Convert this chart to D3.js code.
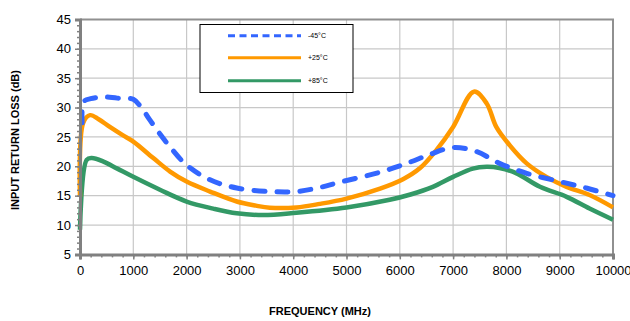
<!DOCTYPE html>
<html><head><meta charset="utf-8">
<script src="https://cdn.jsdelivr.net/npm/d3@7"></script>
<style>body{margin:0;background:#fff;}svg{display:block;font-family:"Liberation Sans",Arial,sans-serif;}</style>
</head><body><svg id="c" width="630" height="321"></svg>
<script>
const xTicks = [0,1000,2000,3000,4000,5000,6000,7000,8000,9000,10000];
const yTicks = [5,10,15,20,25,30,35,40,45];
const seriesNames = ["-45°C","+25°C","+85°C"];
const seriesColors = ["#3366FF","#FF9900","#339966"];
const freqM45 = [40,70,200,430,700,1000,1150,1310,1500,1690,2000,2440,2940,3560,4060,4500,4880,5630,6190,6560,7000,7440,7870,8380,9000,9500,10000];
const valM45  = [27.4,31.0,31.5,31.8,31.6,31.4,30.0,27.9,25.5,23.3,20.2,17.7,16.3,15.7,15.7,16.4,17.3,19.0,20.7,22.0,23.2,22.5,20.5,18.8,17.4,16.3,15.0];
const freqP25 = [0,60,190,350,560,800,1000,1375,1690,2000,2440,2940,3300,3560,4060,4500,5000,5630,6060,6380,6690,7000,7390,7630,7810,8060,8380,8750,9130,9560,10000];
const valP25  = [14.8,27.4,28.7,28.0,26.7,25.3,24.2,21.4,19.1,17.4,15.7,14.0,13.3,12.95,13.0,13.6,14.5,16.2,17.8,19.7,22.8,26.7,32.7,30.7,26.7,23.6,20.5,18.2,16.5,15.1,13.0];
const freqP85 = [0,125,220,440,700,1000,1500,2000,2500,2940,3440,4060,5000,5810,6200,6620,7000,7370,7630,7870,8190,8630,9130,9560,10000];
const valP85  = [9.2,21.1,21.4,20.8,19.6,18.2,16.0,14.0,12.8,12.0,11.7,12.1,13.0,14.3,15.2,16.5,18.2,19.6,19.9,19.7,18.8,16.5,14.8,12.8,10.9];

const svg = d3.select("#c");
const L=80, R=613, T=19.4, B=254.4;
const x = d3.scaleLinear().domain([0,10000]).range([L,R]);
const y = d3.scaleLinear().domain([5,45]).range([B,T]);

// grid
svg.append("g").selectAll("line").data(yTicks.slice(1,-1)).join("line")
  .attr("x1",L).attr("x2",R).attr("y1",d=>y(d)).attr("y2",d=>y(d))
  .attr("stroke","#c8c8c8").attr("stroke-width",1.2);
svg.append("g").selectAll("line").data(xTicks.slice(1,-1)).join("line")
  .attr("y1",T).attr("y2",B).attr("x1",d=>x(d)).attr("x2",d=>x(d))
  .attr("stroke","#c8c8c8").attr("stroke-width",1.2);

// border top/right
svg.append("path").attr("d",`M${L},${T}H${R}V${B}`).attr("fill","none").attr("stroke","#909090").attr("stroke-width",2);

// series
const series = [[freqM45,valM45],[freqP25,valP25],[freqP85,valP85]];
const line = d3.line().x(d=>x(d[0])).y(d=>y(d[1])).curve(d3.curveCatmullRom.alpha(0.5));
const order=[2,1,0];
order.forEach(i=>{
  const pts = series[i][0].map((f,k)=>[f,series[i][1][k]]);
  svg.append("path").datum(pts).attr("d",line).attr("fill","none")
    .attr("stroke",seriesColors[i]).attr("stroke-width",i===0?5:4.5)
    .attr("stroke-linejoin","round")
    .attr("stroke-linecap",i===0?"round":"butt")
    .attr("stroke-dasharray",i===0?"11,12":null);
});

// axes
const xAxis = d3.axisBottom(x).tickValues(xTicks).tickSize(5).tickFormat(d3.format("d"));
const gx = svg.append("g").attr("transform",`translate(0,${B})`).call(xAxis);
gx.select(".domain").attr("stroke","#808080").attr("stroke-width",3);
gx.selectAll(".tick line").attr("stroke","#808080").attr("stroke-width",1.5);
gx.selectAll("text").attr("font-size",13).attr("fill","#000").attr("dy","0.95em");
const xMinor = d3.axisBottom(x).tickValues(d3.range(0,10001,200)).tickSize(3).tickFormat("");
const gxm = svg.append("g").attr("transform",`translate(0,${B})`).call(xMinor);
gxm.select(".domain").remove();
gxm.selectAll("line").attr("stroke","#808080").attr("stroke-width",1.5);

const yAxis = d3.axisLeft(y).tickValues(yTicks).tickSize(5);
const gy = svg.append("g").attr("transform",`translate(${L},0)`).call(yAxis);
gy.select(".domain").attr("stroke","#808080").attr("stroke-width",3);
gy.selectAll(".tick line").attr("stroke","#808080").attr("stroke-width",1.5);
gy.selectAll("text").attr("font-size",13).attr("fill","#000").attr("x",-9);
const yMinor = d3.axisLeft(y).tickValues(d3.range(5,46,1)).tickSize(3).tickFormat("");
const gym = svg.append("g").attr("transform",`translate(${L},0)`).call(yMinor);
gym.select(".domain").remove();
gym.selectAll("line").attr("stroke","#808080").attr("stroke-width",1.5);

// titles
svg.append("text").attr("x",320).attr("y",315).attr("text-anchor","middle")
  .attr("font-size",11).attr("font-weight","bold").text("FREQUENCY (MHz)");
svg.append("text").attr("transform","translate(19,140) rotate(-90)").attr("text-anchor","middle")
  .attr("font-size",11).attr("font-weight","bold").text("INPUT RETURN LOSS (dB)");

// legend
const lg = svg.append("g");
lg.append("rect").attr("x",200).attr("y",24.5).attr("width",153).attr("height",68)
  .attr("fill","#fff").attr("stroke","#000").attr("stroke-width",1);
const rows=[35.7,57.7,80.7];
seriesNames.forEach((n,i)=>{
  lg.append("line").attr("x1",228).attr("x2",301).attr("y1",rows[i]).attr("y2",rows[i])
    .attr("stroke",seriesColors[i]).attr("stroke-width",3)
    .attr("stroke-dasharray",i===0?"7,4.5":null);
  lg.append("text").attr("x",308).attr("y",rows[i]+2.5).attr("font-size",7).text(n);
});
</script></body></html>
